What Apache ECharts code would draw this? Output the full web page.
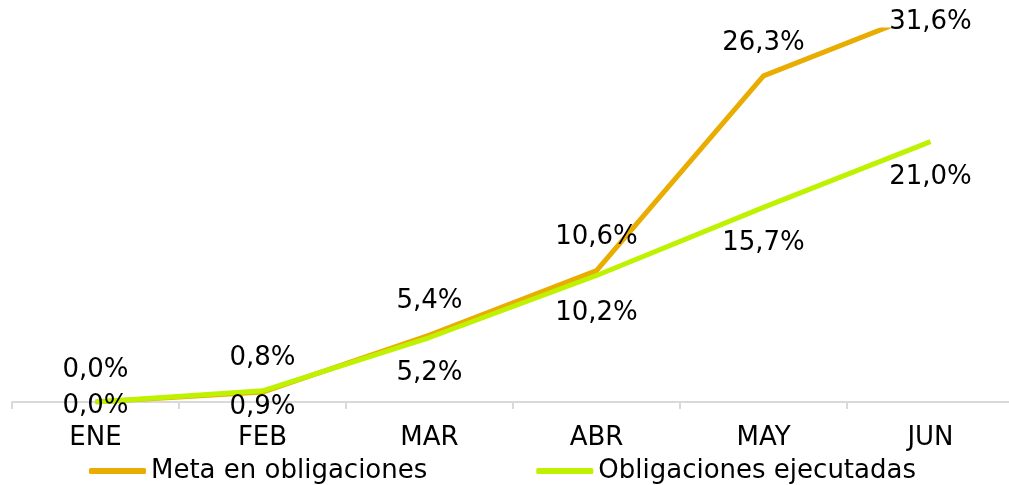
<!DOCTYPE html>
<html>
<head>
<meta charset="utf-8">
<script src="https://cdn.jsdelivr.net/npm/echarts@6/dist/echarts.min.js"></script>
<style>
html,body{margin:0;padding:0;background:#fff;overflow:hidden;width:1009px;height:485px;}
#chart{width:1024px;height:485px;}
</style>
</head>
<body>
<div id="chart"></div>
<script>
const categories = ['ENE', 'FEB', 'MAR', 'ABR', 'MAY', 'JUN'];
const metaValues = [0.0, 0.8, 5.4, 10.6, 26.3, 31.6];
const ejecValues = [0.0, 0.9, 5.2, 10.2, 15.7, 21.0];
const seriesNames = ['Meta en obligaciones', 'Obligaciones ejecutadas'];

const metaColor = '#E9AC00';
const ejecColor = '#BFF200';
const FONT = '"DejaVu Sans", Verdana, sans-serif';

// label vertical offsets (styling)
const metaLabelOffsets = [-32, -34, -34, -33, -33, 12];
const ejecLabelOffsets = [4, 16, 36, 38, 36, 36];

function fmt(v) { return v.toFixed(1).replace('.', ',') + '%'; }

function withLabels(values, offsets) {
  return values.map((v, i) => ({
    value: v,
    label: { offset: [0, offsets[i]] }
  }));
}

const labelBase = {
  show: true,
  position: 'inside',
  fontFamily: FONT,
  fontSize: 26,
  color: '#000',
  formatter: p => fmt(p.value)
};

const chart = echarts.init(document.getElementById('chart'), null, { renderer: 'canvas' });
chart.setOption({
  animation: false,
  backgroundColor: '#fff',
  grid: { left: 12, top: 30, width: 1002, bottom: 83, containLabel: false },
  xAxis: {
    type: 'category',
    data: categories,
    boundaryGap: true,
    axisLine: { lineStyle: { color: '#D9D9D9', width: 2 } },
    axisTick: { show: true, length: 7, lineStyle: { color: '#D9D9D9', width: 2 } },
    axisLabel: { fontFamily: FONT, fontSize: 26, color: '#000', margin: 23 }
  },
  yAxis: { type: 'value', min: 0, max: 30, show: false, splitLine: { show: false } },
  legend: {
    data: [
      { name: seriesNames[0], itemStyle: { color: metaColor, opacity: 1 } },
      { name: seriesNames[1], itemStyle: { color: ejecColor, opacity: 1 } }
    ],
    bottom: -4,
    left: 84,
    itemGap: 109,
    itemWidth: 57,
    itemHeight: 6,
    icon: 'roundRect',
    textStyle: { fontFamily: FONT, fontSize: 26, color: '#000' }
  },
  series: [
    {
      name: seriesNames[0],
      type: 'line',
      data: metaValues,
      clip: true,
      symbol: 'none',
      color: metaColor,
      lineStyle: { color: metaColor, width: 5 },
      z: 2
    },
    {
      name: seriesNames[1],
      type: 'line',
      data: withLabels(ejecValues, ejecLabelOffsets),
      symbol: 'circle',
      symbolSize: 1,
      color: ejecColor,
      itemStyle: { color: 'rgba(0,0,0,0)', borderWidth: 0 },
      lineStyle: { color: ejecColor, width: 5 },
      label: labelBase,
      z: 3
    },
    {
      name: 'metaLabels',
      type: 'line',
      data: withLabels(metaValues, metaLabelOffsets),
      clip: false,
      symbol: 'circle',
      symbolSize: 1,
      itemStyle: { color: 'rgba(0,0,0,0)', borderWidth: 0 },
      lineStyle: { opacity: 0, width: 0 },
      label: labelBase,
      silent: true,
      z: 4
    }
  ]
});
</script>
</body>
</html>
